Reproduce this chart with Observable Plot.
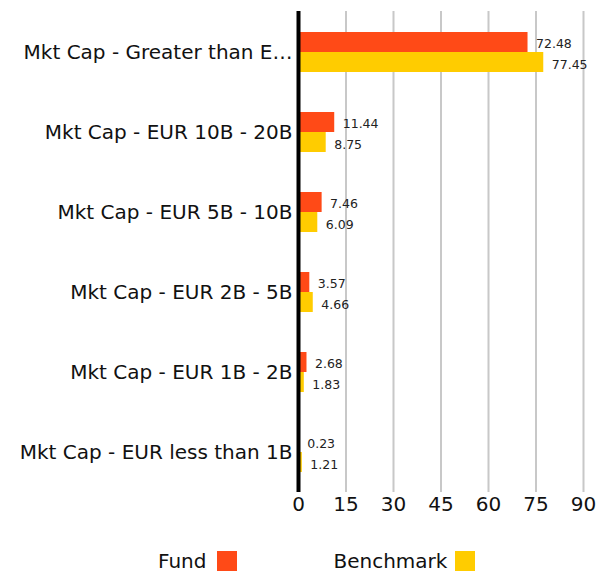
<!DOCTYPE html>
<html><head><meta charset="utf-8">
<script src="https://cdn.jsdelivr.net/npm/d3@7"></script>
<script src="https://cdn.jsdelivr.net/npm/@observablehq/plot@0.6"></script>
<style>
body{margin:0;background:#fff;font-family:"DejaVu Sans",sans-serif;}
#legend{display:flex;align-items:center;margin-top:26px;font-size:20px;color:#111;height:24px;}
.sw{width:20px;height:20px;display:inline-block;}
</style>
</head><body>
<div id="chart"></div>
<div id="legend">
  <span style="margin-left:158px">Fund</span><span class="sw" style="background:#FF4A17;margin-left:11px"></span>
  <span style="margin-left:96px">Benchmark</span><span class="sw" style="background:#FFCC00;margin-left:8px"></span>
</div>
<script>
const categories = [
  "Mkt Cap - Greater than E…",
  "Mkt Cap - EUR 10B - 20B",
  "Mkt Cap - EUR 5B - 10B",
  "Mkt Cap - EUR 2B - 5B",
  "Mkt Cap - EUR 1B - 2B",
  "Mkt Cap - EUR less than 1B"
];
const fund = [72.48, 11.44, 7.46, 3.57, 2.68, 0.23];
const benchmark = [77.45, 8.75, 6.09, 4.66, 1.83, 1.21];
const xTicks = [0, 15, 30, 45, 60, 75, 90];

const fundData = categories.map((c, i) => ({cat: c, value: fund[i]}));
const benchData = categories.map((c, i) => ({cat: c, value: benchmark[i]}));

const chart = Plot.plot({
  width: 606,
  height: 523,
  marginLeft: 298,
  marginRight: 23,
  marginTop: 11,
  marginBottom: 31,
  style: {fontFamily: "DejaVu Sans, sans-serif", background: "#fff"},
  x: {domain: [0, 90], ticks: xTicks, grid: false, label: null},
  y: {domain: categories, paddingInner: 0, paddingOuter: 0.005, label: null},
  marks: [
    Plot.gridX(xTicks.filter(d => d > 0), {stroke: "#c8c8c8", strokeOpacity: 1, strokeWidth: 2}),
    Plot.barX(fundData, {x: "value", y: "cat", fill: "#FF4A17", insetTop: 20, insetBottom: 40}),
    Plot.barX(benchData, {x: "value", y: "cat", fill: "#FFCC00", insetTop: 40, insetBottom: 20}),
    Plot.text(fundData, {x: "value", y: "cat", text: d => d.value.toFixed(2), dx: 8, dy: -9, textAnchor: "start", fontSize: 12.5, fill: "#222"}),
    Plot.text(benchData, {x: "value", y: "cat", text: d => d.value.toFixed(2), dx: 8, dy: 12, textAnchor: "start", fontSize: 12.5, fill: "#222"}),
    Plot.ruleX([0], {stroke: "#000", strokeWidth: 4}),
    Plot.axisX({ticks: xTicks, tickSize: 0, tickPadding: 4, fontSize: 20, label: null, fill: "#111"}),
    Plot.axisY({tickSize: 0, tickPadding: 6, fontSize: 20, label: null, fill: "#111"})
  ]
});
document.getElementById("chart").appendChild(chart);
</script>
</body></html>
